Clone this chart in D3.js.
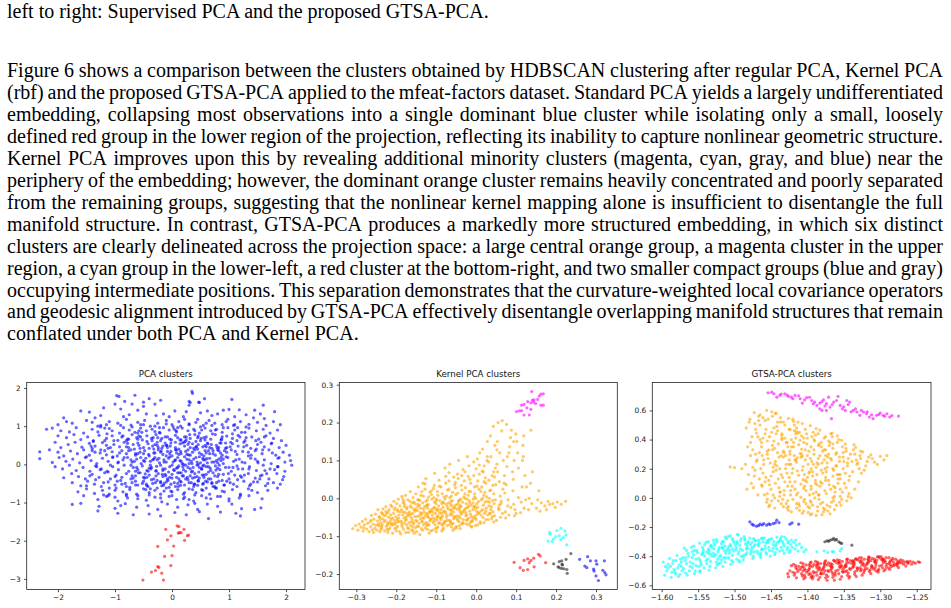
<!DOCTYPE html>
<html>
<head>
<meta charset="utf-8">
<script src="https://cdn.jsdelivr.net/npm/d3@7"></script>
<style>
  body { margin: 0; background: #fff; }
  svg { display: block; }
</style>
</head>
<body>
<svg id="page" width="951" height="608"></svg>
<script>
// ---- text of the page ----
var captionTail = 'left to right: Supervised PCA and the proposed GTSA-PCA.';
var paragraphLines = [
  'Figure 6 shows a comparison between the clusters obtained by HDBSCAN clustering after regular PCA, Kernel PCA',
  '(rbf) and the proposed GTSA-PCA applied to the mfeat-factors dataset. Standard PCA yields a largely undifferentiated',
  'embedding, collapsing most observations into a single dominant blue cluster while isolating only a small, loosely',
  'defined red group in the lower region of the projection, reflecting its inability to capture nonlinear geometric structure.',
  'Kernel PCA improves upon this by revealing additional minority clusters (magenta, cyan, gray, and blue) near the',
  'periphery of the embedding; however, the dominant orange cluster remains heavily concentrated and poorly separated',
  'from the remaining groups, suggesting that the nonlinear kernel mapping alone is insufficient to disentangle the full',
  'manifold structure. In contrast, GTSA-PCA produces a markedly more structured embedding, in which six distinct',
  'clusters are clearly delineated across the projection space: a large central orange group, a magenta cluster in the upper',
  'region, a cyan group in the lower-left, a red cluster at the bottom-right, and two smaller compact groups (blue and gray)',
  'occupying intermediate positions. This separation demonstrates that the curvature-weighted local covariance operators',
  'and geodesic alignment introduced by GTSA-PCA effectively disentangle overlapping manifold structures that remain',
  'conflated under both PCA and Kernel PCA.'
];

// ---- tick values ----
var pcaXTicks = [-2, -1, 0, 1, 2];
var pcaYTicks = [-3, -2, -1, 0, 1, 2];
var kpcaXTicks = [-0.3, -0.2, -0.1, 0.0, 0.1, 0.2, 0.3];
var kpcaYTicks = [-0.2, -0.1, 0.0, 0.1, 0.2, 0.3];
var gtsaXTicks = [-1.60, -1.55, -1.50, -1.45, -1.40, -1.35, -1.30, -1.25];
var gtsaYTicks = [-0.6, -0.4, -0.2, 0.0, 0.2, 0.4, 0.6];

// points written as "x,y" pairs, divided by the scale given
function pts(str, scale) {
  return str.trim().split(/\s+/).map(function(p) {
    var v = p.split(',');
    return [+v[0] / scale, +v[1] / scale];
  });
}

// ---- PCA (hundredths) ----
var pcaBlue = pts(`
-97,180 -93,178 -65,181 35,191 36,186 57,172 -40,172 160,155 30,165 32,162 -83,165 -50,163 -20,168 105,170
-160,140 -145,137 -120,148 -100,158 -90,145 -70,158 -60,142 -50,152 -45,132 -30,158 -15,132 5,140 20,125 30,155 47,163 48,162 50,135 70,128 90,142 100,144 110,125 145,142 155,132 180,138 130,130 -125,128 -85,125 -5,125 80,132 -190,122 -135,122 -75,130 62,140 118,143 25,138 -28,128 143,122 162,120
-185,112 -175,108 -150,115 -140,110 -125,102 -110,112 -95,108 -80,118 -72,103 -60,110 -48,115 -38,100 -25,108 -10,115 0,104 12,112 22,118 30,106 42,110 55,102 65,115 75,108 88,104 98,118 108,102 120,112 135,105 150,110 165,102 178,112 190,104 -200,104 -55,104 15,100 60,108 95,112 -115,104 45,118
-220,92 -210,95 -195,88 -180,85 -168,96 -155,82 -140,92 -130,85 -118,95 -105,88 -92,82 -85,96 -75,90 -65,84 -55,95 -45,88 -35,92 -22,84 -15,96 -5,90 8,85 18,95 28,88 38,92 48,82 58,95 68,88 78,92 88,84 98,96 110,90 122,84 135,95 148,88 160,92 172,82 185,90 -125,98 -60,82 2,98 52,90 115,96 -30,86
-200,75 -185,70 -172,78 -160,65 -148,72 -138,62 -128,76 -115,68 -105,75 -95,63 -88,72 -78,66 -70,78 -62,70 -52,64 -44,75 -36,68 -28,78 -20,62 -12,72 -4,66 6,76 14,64 22,72 32,68 40,78 50,62 60,72 68,66 76,78 86,64 96,74 106,68 116,76 128,62 140,72 152,66 165,75 178,68 192,62 -80,62 10,70 45,70 88,72 130,70 -58,74 25,64
-205,58 -195,44 -182,52 -170,58 -158,45 -145,55 -135,48 -122,57 -112,42 -102,52 -92,46 -84,58 -76,44 -68,52 -60,56 -50,44 -42,54 -34,48 -26,58 -18,42 -10,50 -2,56 6,44 14,54 22,48 30,58 38,42 46,52 54,46 62,56 70,42 78,50 86,56 96,44 106,54 116,48 126,58 138,42 150,52 162,46 175,56 188,44 200,50 -140,42 -30,52 18,56 58,50 102,46 -115,50 42,46 82,44 -8,44
-215,38 -200,32 -190,22 -178,35 -166,28 -155,38 -145,24 -135,32 -125,38 -115,25 -105,33 -96,22 -88,36 -80,28 -72,38 -64,24 -56,32 -48,36 -40,22 -32,30 -24,38 -16,26 -8,34 0,22 8,38 16,28 24,34 32,24 40,38 48,30 56,22 64,36 72,28 80,38 88,24 96,32 104,38 114,26 124,34 134,22 146,36 158,28 170,38 182,24 195,32 206,24 -60,28 -20,32 12,26 36,32 60,30 92,36 -140,36 -4,28 28,38 52,26
-232,15 -210,5 -198,18 -186,8 -174,14 -162,4 -152,18 -142,10 -132,2 -122,16 -112,8 -104,18 -95,4 -86,12 -78,18 -70,6 -62,14 -54,2 -46,16 -38,8 -30,18 -22,4 -14,12 -6,16 2,6 10,18 18,2 26,14 34,8 42,18 50,4 58,12 66,16 74,6 82,14 90,2 98,18 108,8 118,14 128,4 138,16 150,8 162,12 174,2 186,16 198,6 208,10 -50,10 -10,6 14,10 38,14 62,4 86,10 -26,12 6,12 30,2 54,16 78,10 112,12 -232,33
-205,-6 -192,-12 -180,-2 -168,-16 -156,-8 -144,-18 -134,-4 -124,-12 -114,-18 -104,-6 -94,-14 -84,-2 -76,-18 -68,-8 -60,-14 -52,-4 -44,-16 -36,-8 -28,-18 -20,-2 -12,-12 -4,-6 4,-16 12,-4 20,-14 28,-8 36,-18 44,-2 52,-12 60,-6 68,-16 76,-4 84,-14 94,-8 104,-18 114,-4 124,-12 136,-6 148,-16 160,-2 172,-12 185,-6 198,-18 210,-2 -40,-10 -16,-16 8,-10 32,-12 56,-2 80,-10 -64,-18 0,-2 24,-18 48,-8
-190,-35 -176,-24 -164,-32 -152,-38 -140,-26 -128,-34 -118,-22 -108,-38 -98,-28 -88,-34 -80,-24 -72,-38 -64,-30 -56,-22 -48,-36 -40,-28 -32,-38 -24,-24 -16,-32 -8,-38 0,-26 8,-34 16,-22 24,-38 32,-30 40,-24 48,-36 56,-28 64,-38 72,-22 80,-32 90,-26 100,-38 110,-28 122,-34 134,-24 146,-36 158,-28 170,-38 184,-24 196,-32 -44,-34 -12,-26 20,-30 44,-32 -100,-32 -28,-30 12,-38 36,-36 60,-26
-175,-48 -160,-56 -148,-44 -136,-52 -124,-58 -112,-46 -100,-54 -90,-42 -80,-58 -70,-48 -60,-54 -50,-44 -42,-58 -34,-50 -26,-42 -18,-56 -10,-46 -2,-52 6,-58 14,-44 22,-54 30,-48 38,-58 46,-42 54,-52 62,-46 72,-58 82,-44 92,-54 102,-48 114,-58 126,-44 138,-52 150,-46 164,-56 178,-48 190,-52 -20,-48 10,-50 40,-52 -64,-44 70,-50
-165,-72 -150,-64 -136,-76 -122,-68 -110,-78 -98,-62 -86,-72 -74,-66 -62,-78 -50,-64 -40,-74 -30,-68 -20,-78 -10,-62 0,-72 10,-66 20,-78 30,-64 42,-74 54,-68 66,-78 78,-62 92,-72 106,-66 120,-78 134,-64 150,-74 168,-68 185,-62 -80,-78 60,-62 -14,-70
-155,-82 -130,-92 -115,-84 -95,-96 -78,-88 -60,-82 -45,-94 -30,-86 -18,-98 -5,-84 8,-92 22,-86 38,-96 52,-82 68,-90 85,-84 100,-96 118,-88 135,-82 158,-90 -112,-82 30,-92
-175,-105 -160,-102 -128,-110 -100,-115 -82,-103 -62,-112 -42,-108 -25,-118 -8,-104 10,-112 28,-106 45,-118 62,-104 80,-110 105,-104 122,-116 145,-118 156,-114 -90,-108 40,-102
-95,-128 -68,-132 -40,-130 -20,-135 5,-126 25,-132 64,-142 85,-125 112,-128 120,-135 -130,-122 48,-124
-78,55 -66,40 -55,18 -47,-25 -35,62 -27,-5 -19,35 -11,-30 -3,48 5,10 13,-22 21,58 29,25 37,-8 45,40 53,-28 61,15 69,52 77,-15 85,30 -72,-2 -60,66 -48,8 -36,-40 -24,44 -16,-12 -8,72 0,-36 8,30 16,64 24,-2 32,44 40,-34 48,20 56,70 64,-20 72,36 80,4 88,-42 -64,28 -52,-50 -40,42 -32,14 -20,-45 -12,56 -4,20 4,-48 12,40 20,0 28,-40 36,54 44,6 52,-12 60,46 68,-38 76,24 84,56 -84,18 -70,-30 -58,50 -42,-18 -30,30 -18,68 -6,-20 6,38 18,-30 30,12 42,60 54,-4 66,28 78,-48 90,14 -76,36 -62,-8 -50,28 -38,-2 -26,50 -14,6 -2,34 10,-8 22,20 34,-20 46,-44 58,36 70,6 82,-26 94,42 -45,-52 -15,-55 15,-55 45,-55 75,-58 -25,70 25,72 -55,72 55,-50 -5,-60
-118,62 -104,20 -96,-44 -86,75 -74,-60 -66,8 -59,-22 -53,84 -46,-66 -41,26 -37,-12 -33,70 -29,-48 -23,16 -21,82 -17,-26 -9,50 -7,-42 -1,64 3,-14 7,88 11,-58 15,34 19,-6 23,60 27,-34 31,78 35,2 39,-52 43,46 47,-20 51,68 55,12 59,-44 63,54 67,-10 71,80 75,-30 79,44 83,-2 87,66 91,-54 95,20 99,-24 103,58 107,-8 111,34 115,-40 119,72 123,6 127,-28 131,50 135,-12 139,24 143,-46 147,62 151,4 155,-30 159,38 163,-16
-112,-20 -108,44 -100,-68 -92,30 -82,-50 -76,66 -68,-36 -56,42 -44,-56 -34,12 -26,-62 -16,48 -4,-34 6,58 16,-46 26,26 36,-66 46,74 56,-34 66,44 76,-62 86,18 96,-44 106,80 116,-12 126,46 136,-56 146,14 156,58 166,-24 176,30 186,-6
-150,20 -144,-30 -138,60 -132,-6 -126,30 -120,-48 -114,80 -108,-2 -150,-56 -142,48 -134,-40 -126,-14 -118,36 -110,-62 -102,62 -94,6 -88,-52 -80,46 -72,12 -64,-54 -58,88 -50,-34 -44,60 -38,-64 -32,40 -28,-16 -22,96 -14,-50 -10,22 -2,-70 4,92 10,-22 16,8 22,-74 28,52 34,-48 40,88 46,0 52,-66 58,64 64,-6 70,-48 76,90 82,36 88,-70 94,56 100,-8 108,-52 114,62 120,-30 128,84 134,32 140,-68 148,40 154,-38 162,72 168,-50 174,54 180,-14 188,18 194,-40
-130,100 -110,94 -90,102 -70,98 -50,104 -30,100 -10,106 10,96 30,104 50,98 70,102 90,96 110,104 130,98 -120,-80 -100,-86 -80,-82 -60,-90 -40,-80 -20,-88 0,-82 20,-90 40,-80 60,-88 80,-84 100,-90 120,-82
`, 100);
var pcaRed = pts(`
9,-161 12,-163 -11,-170 -2,-187 21,-170 13,-179 16,-179 27,-187 29,-185 -8,-198 22,-199 3,-214 -25,-215 -13,-241 0,-239
-2,-265 -23,-270 -29,-278 -18,-285 -36,-282 -51,-303 -15,-303 11,-180 -25,-268
`, 100);

// ---- Kernel PCA (thousandths) ----
var kpcaOrange = pts(`
-309,-80 -302,-72 -296,-84 -293,-68
-288,-76 -285,-61 -283,-86 -280,-70 -277,-55 -274,-81 -272,-66 -281,-78
-268,-88 -266,-62 -264,-75 -262,-45 -260,-83 -258,-68 -256,-55 -254,-79 -252,-42 -263,-58 -257,-90 -251,-71
-249,-84 -247,-60 -246,-30 -244,-72 -242,-48 -241,-88 -239,-65 -237,-38 -236,-78 -234,-54 -233,-28 -245,-68 -240,-56 -238,-82 -232,-44 -235,-70
-229,-86 -228,-58 -226,-22 -225,-74 -224,-40 -222,-64 -221,-90 -219,-50 -218,-30 -216,-78 -215,-60 -214,-18 -212,-70 -227,-46 -223,-82 -220,-36 -217,-66 -213,-54
-209,-92 -208,-70 -207,-40 -206,-8 -205,-58 -204,-80 -203,-25 -202,-64 -201,-48 -200,-86 -199,-14 -198,-55 -197,-74 -196,-34 -195,-2 -194,-62 -193,-44 -192,-88 -191,-20 -209,-52 -203,-68 -197,-30
-189,-94 -188,-60 -187,-30 -186,5 -185,-75 -184,-44 -183,-12 -182,-82 -181,-52 -180,-22 -179,-66 -178,-38 -177,8 -176,-90 -175,-56 -174,-28 -173,-70 -172,-46 -171,-4 -186,-64 -183,-36 -179,-16 -176,-50 -172,-78
-169,-90 -168,-64 -167,-36 -166,-8 -165,18 -164,-72 -163,-50 -162,-24 -161,-84 -160,-56 -159,-40 -158,2 -157,-68 -156,-30 -155,-92 -154,-48 -153,-14 -152,-78 -151,-58 -168,-44 -165,-20 -162,-62 -159,-76 -156,-10 -153,-34 -151,12
-149,-88 -148,-60 -147,-32 -146,-4 -145,30 -144,-74 -143,-46 -142,-18 -141,-96 -140,-54 -139,-26 -138,8 -137,-80 -136,-40 -135,-62 -134,-12 -133,40 -132,-70 -131,-36 -148,-48 -146,-22 -143,-66 -141,-6 -138,-44 -136,18 -134,-84 -132,-28 -131,-52
-129,-22 -128,38 -127,-66 -126,-8 -125,-40 -124,-64 -123,-18 -122,-82 -121,-26 -120,-50 -119,4 -118,-70 -117,-36 -116,16 -115,-54 -114,-86 -113,-56 -112,-30 -111,-2 -128,24 -126,52 -124,-72 -122,-42 -120,-16 -118,-92 -116,-60 -114,-34 -112,10 -127,-78 -121,-48
-109,-84 -108,-52 -107,-26 -106,2 -105,34 -104,66 -103,-70 -102,-40 -101,-14 -100,-88 -99,-58 -98,-32 -97,18 -96,-76 -95,-46 -94,-20 -93,48 -92,-64 -91,-6 -108,-36 -106,-60 -104,-10 -102,-80 -100,-28 -98,-48 -96,8 -94,-66 -92,-38 -107,26 -103,-54 -99,-2 -95,-30
-89,-52 -88,30 -87,-40 -86,-68 -85,12 -84,-46 -83,-24 -82,-78 -81,-12 -80,-62 -79,-34 -78,-2 -77,-60 -76,58 -75,-16 -74,-44 -73,-72 -72,22 -71,-28 -88,-56 -86,-86 -84,-10 -82,-36 -80,-66 -78,80 -76,40 -74,6 -72,-22 -87,-50 -83,-82
-69,-12 -68,68 -67,-58 -66,2 -65,-30 -64,-60 -63,-8 -62,-76 -61,-20 -60,-44 -59,16 -58,-66 -57,-36 -56,56 -55,-50 -54,-80 -53,-48 -52,-18 -51,10 -68,46 -66,90 -64,-64 -62,-32 -60,-6 -58,-84 -56,-54 -54,-24 -52,28 -67,-70 -63,-40
-49,-78 -48,-46 -47,-16 -46,14 -45,52 -44,100 -43,-62 -42,-30 -41,-4 -40,-80 -39,-52 -38,-22 -37,34 -36,-68 -35,-38 -34,-10 -33,76 -32,-56 -31,4 -48,-28 -46,-58 -44,-6 -42,-72 -40,-18 -38,-42 -36,22 -34,-64 -32,-34 -47,64 -43,-48
-29,-30 -28,70 -27,28 -26,-38 -25,-14 -24,-68 -23,-2 -22,-56 -21,-24 -20,8 -19,-52 -18,86 -17,-6 -16,-34 -15,-64 -14,40 -13,-18 -12,-48 -11,-76 -28,0 -26,-26 -24,-58 -22,110 -20,58 -18,18 -16,-12 -14,-42 -12,-74
-9,-60 -8,-30 -7,-2 -6,96 -5,-48 -4,12 -3,-20 -2,-52 -1,0 0,78 1,-34 2,32 3,104 4,-70 5,-38 6,-8 7,24 8,64 9,120 -8,-54 -6,-22 -4,4 -2,-72 0,-44 2,-14 4,46
11,-66 12,-34 13,-4 14,30 15,72 16,130 17,-50 18,-18 19,8 20,-64 21,-40 22,-10 23,54 24,-56 25,-26 26,4 27,100 28,150 29,-44 12,18 16,-30 20,86 24,40 28,-8
31,96 32,48 33,-10 34,20 35,-40 36,165 37,110 38,-22 39,-54 40,60 41,-6 42,-36 43,190 44,12 45,-14 46,-46 47,140 48,80 49,36 33,0 37,-30 44,-62
51,-58 56,-26 53,150 58,44 52,90 60,6 55,200 66,-40 59,120 63,-8 61,-50 67,24 54,70 64,178 57,-30 65,205 62,-14 68,100
74,-52 71,60 79,-20 76,195 72,14 78,110 86,160 73,-36 80,-4 77,84 82,-44 84,136 75,36 87,-24 88,180
96,-46 91,70 94,-16 99,170 92,20 104,120 97,-30 93,50 100,-40 102,150 95,100 106,2
111,-38 113,-10 115,30 116,100 117,140 119,165 120,-26 122,60 124,-4
131,-30 133,0 136,40 137,180 139,-14 141,70
151,-26 154,-4 157,20 160,-34 163,-12
172,-20 176,-30 180,-8 184,-16
192,-14 198,-24 203,-10
213,-16 224,-8
-243,-50 -238,-74 -231,-62 -226,-35 -219,-82 -214,-44 -210,-66 -205,-30 -199,-78 -194,-52 -190,-36 -186,-70 -181,-8 -177,-58 -173,-24 -169,-80 -164,-42 -160,-12 -156,-64 -152,-28 -148,-74 -144,-4 -140,-38 -136,-60 -132,6 -128,-46 -124,-20 -120,-70 -116,-36 -112,20 -108,-64 -104,-24 -100,-6 -96,-52 -92,32 -88,-30 -84,-70 -80,4 -76,-38 -72,-58 -68,24 -64,-16 -60,-68 -56,-26 -52,42 -48,-54 -44,-10 -40,-36 -36,60 -32,-66 -28,12 -24,-44 -20,-20 -16,50 -12,-60 -8,-12 -4,30 0,-56 4,-24 8,88 12,-44 16,0 20,44 24,-34 28,110 32,-20 36,22 40,-48 44,70 48,-4 52,128
-235,-40 -222,-70 -211,-22 -196,-60 -184,-2 -171,-40 -158,-86 -146,-16 -134,-52 -122,-4 -110,-44 -98,-78 -86,-14 -74,-50 -62,6 -50,-74 -38,-2 -26,-46 -14,18 -2,-26 10,-62 22,16 34,-40 46,56 58,-18 70,40 82,120 94,150 106,80 118,110 126,30 -66,-44 -54,36 -42,-24 -30,46 -18,-70 -6,60 6,-40 18,70 30,-56 42,34
`, 1000);
var kpcaMagenta = pts(`
139,282 162,275 168,276 158,270 154,261 141,259 129,255 137,252 144,254 149,250 120,248 114,246 162,246 168,246 127,239
137,235 108,231 101,229 120,220 133,220 114,231 145,260
`, 1000);
var kpcaCyan = pts(`
184,-90 185,-95 202,-85 212,-79 222,-86 225,-97 199,-101 208,-99 194,-108 212,-109 190,-114 218,-104 227,-123 180,-113
`, 1000);
var kpcaRed = pts(`
95,-169 110,-183 118,-190 129,-160 133,-170 137,-164 144,-158 129,-188 145,-181 156,-148 160,-152 174,-170 120,-164
`, 1000);
var kpcaGray = pts(`
194,-173 208,-167 214,-165 225,-161 237,-146 216,-176 208,-183 214,-185 220,-186 227,-188 228,-198 205,-181 215,-174
`, 1000);
var kpcaBlue = pts(`
259,-161 279,-154 272,-179 277,-183 286,-165 300,-165 302,-174 295,-192 300,-205 306,-217 317,-190 322,-196 325,-202 321,-165 294,-187
`, 1000);

// ---- GTSA-PCA (thousandths) ----
var gtsaOrange = pts(`
-1506,212 -1500,208 -1490,200
-1479,540 -1484,480 -1476,420 -1482,350 -1478,290 -1485,230 -1481,160 -1477,100 -1483,60 -1480,520
-1473,585 -1467,530 -1471,470 -1465,400 -1475,330 -1469,260 -1472,190 -1466,130 -1474,70 -1468,20 -1470,445 -1475,210 -1467,560 -1471,300
-1456,600 -1461,550 -1465,500 -1458,440 -1463,380 -1455,320 -1460,260 -1464,200 -1457,140 -1462,80 -1459,20 -1456,-30 -1463,350 -1460,230 -1465,570 -1458,110 -1461,410 -1455,-10
-1449,590 -1454,540 -1446,480 -1452,420 -1448,360 -1455,300 -1451,240 -1447,180 -1453,120 -1450,60 -1445,0 -1452,-50 -1448,560 -1454,270 -1446,390 -1450,150 -1455,30 -1449,450 -1453,-60 -1447,210
-1443,580 -1437,520 -1441,460 -1435,400 -1445,340 -1439,280 -1442,220 -1436,160 -1444,100 -1438,40 -1440,-20 -1445,-70 -1437,550 -1441,310 -1435,430 -1443,190 -1439,70 -1442,490 -1436,-40 -1444,250 -1438,10 -1440,370
-1426,545 -1431,500 -1435,440 -1428,380 -1433,320 -1425,260 -1430,200 -1434,140 -1427,80 -1432,20 -1429,-40 -1426,-85 -1433,520 -1430,290 -1435,410 -1428,170 -1431,110 -1425,470 -1434,-10 -1429,230 -1432,50 -1427,350 -1426,-60 -1433,280
-1419,525 -1424,470 -1416,410 -1422,350 -1418,290 -1425,230 -1421,170 -1417,110 -1423,50 -1420,-10 -1415,-70 -1422,-95 -1418,500 -1424,320 -1416,440 -1420,200 -1425,140 -1419,380 -1423,20 -1417,260 -1421,80 -1415,-40 -1424,300 -1418,460
-1413,445 -1407,285 -1411,-55 -1405,65 -1415,245 -1409,5 -1412,365 -1406,125 -1414,185 -1408,425 -1410,305 -1415,480 -1407,-105 -1411,-85 -1405,-25 -1413,35 -1409,95 -1412,155 -1406,215 -1414,275 -1408,335 -1410,395 -1415,455 -1407,510
-1396,495 -1401,440 -1405,380 -1398,320 -1403,260 -1395,200 -1400,140 -1404,80 -1397,20 -1402,-40 -1399,-100 -1396,-115 -1403,470 -1400,290 -1405,410 -1398,170 -1401,110 -1395,350 -1404,-10 -1399,230 -1402,50 -1397,-70 -1396,270 -1403,120
-1389,100 -1394,250 -1386,-90 -1392,30 -1388,210 -1395,-30 -1391,330 -1387,90 -1393,150 -1390,390 -1385,270 -1392,450 -1388,-120 -1394,-110 -1386,-60 -1390,0 -1395,60 -1389,120 -1393,180 -1387,240 -1391,300 -1385,360 -1394,420 -1388,475
-1383,465 -1377,410 -1381,350 -1375,290 -1385,230 -1379,170 -1382,110 -1376,50 -1384,-10 -1378,-70 -1380,-115 -1385,440 -1377,260 -1381,380 -1375,140 -1383,80 -1379,320 -1382,-40 -1376,200 -1384,20 -1378,-95 -1380,240
-1366,445 -1371,390 -1375,330 -1368,270 -1373,210 -1365,150 -1370,90 -1374,30 -1367,-30 -1372,-90 -1369,-110 -1366,420 -1373,240 -1370,360 -1375,120 -1368,60 -1371,300 -1365,0 -1374,180 -1369,-60
-1359,160 -1364,-20 -1356,280 -1362,40 -1358,100 -1365,340 -1361,220 -1357,400 -1363,-80 -1360,-50 -1355,10 -1362,70 -1358,130 -1364,190 -1356,250 -1360,310 -1365,370 -1359,425
-1353,395 -1347,340 -1351,280 -1345,220 -1355,160 -1349,100 -1352,40 -1346,-20 -1354,-50 -1348,370 -1350,250 -1355,130 -1347,70 -1351,310
-1336,365 -1341,300 -1345,240 -1338,180 -1343,120 -1335,60 -1340,0 -1344,270 -1337,330 -1342,150
-1334,345 -1328,290 -1332,230 -1326,170 -1330,110 -1333,260 -1327,320 -1329,200
-1324,315 -1318,250 -1322,190 -1316,280 -1320,220
-1313,295 -1308,245 -1311,270 -1304,230
-1300,285 -1295,260 -1291,290
-1478,380 -1472,510 -1466,310 -1461,170 -1457,470 -1452,90 -1448,330 -1444,580 -1440,130 -1436,290 -1431,410 -1427,-20 -1423,230 -1419,350 -1415,20 -1411,450 -1407,190 -1403,330 -1399,-60 -1395,80 -1391,400 -1387,160 -1383,290 -1379,-30 -1375,420 -1371,120 -1367,260 -1363,10 -1359,380 -1355,60 -1351,200 -1347,320 -1343,30 -1339,250 -1335,300 -1331,240 -1327,270
-1470,250 -1463,90 -1458,530 -1453,330 -1447,20 -1443,440 -1438,200 -1433,-60 -1429,380 -1424,110 -1420,540 -1416,260 -1412,-40 -1408,300 -1404,160 -1400,410 -1396,-20 -1392,230 -1388,40 -1384,370 -1380,100 -1376,-80 -1372,280 -1368,440 -1364,80 -1360,220 -1356,-30 -1352,350 -1348,170 -1344,10
-1473,150 -1468,420 -1462,290 -1455,390 -1449,-20 -1445,230 -1441,520 -1437,40 -1432,310 -1428,-70 -1422,400 -1417,60 -1413,520 -1409,280 -1405,-90 -1401,370 -1397,180 -1393,-50 -1389,430 -1385,20 -1381,190 -1377,330 -1373,-50 -1369,380 -1365,200 -1361,300 -1357,160 -1353,-10
`, 1000);
var gtsaMagenta = pts(`
-1454,721 -1449,725 -1446,714 -1442,691 -1438,703 -1431,714 -1426,696 -1422,691 -1417,703 -1410,680 -1407,650 -1401,687
-1394,668 -1390,657 -1387,634 -1383,650 -1378,673 -1374,646 -1371,691 -1369,623 -1364,657 -1358,696 -1355,634 -1352,611
-1348,600 -1346,668 -1342,657 -1337,600 -1332,589 -1328,566 -1323,589 -1319,577 -1315,554 -1310,543 -1305,566 -1300,582
-1296,566 -1291,577 -1287,554 -1275,561 -1367,543 -1383,611 -1374,600
-1436,712 -1428,705 -1420,680 -1412,700 -1404,672 -1397,690 -1392,645 -1380,660 -1376,630 -1366,640 -1360,668 -1350,625
-1344,640 -1340,590 -1334,610 -1326,600 -1318,590 -1312,570 -1302,572 -1294,560 -1284,565 -1380,600
`, 1000);
var gtsaCyan = pts(`
-1598,-440 -1595,-470 -1593,-500 -1596,-530 -1591,-455
-1589,-415 -1587,-545 -1585,-450 -1583,-490 -1581,-520 -1588,-470 -1584,-430 -1582,-505
-1579,-395 -1577,-540 -1576,-460 -1574,-420 -1572,-500 -1578,-480 -1575,-525 -1573,-440 -1571,-410
-1569,-345 -1567,-515 -1566,-450 -1564,-380 -1562,-500 -1568,-430 -1565,-530 -1563,-400 -1561,-470 -1566,-360
-1559,-340 -1558,-480 -1556,-390 -1555,-520 -1553,-420 -1552,-360 -1557,-450 -1554,-500 -1551,-375 -1558,-410 -1553,-465 -1556,-330
-1549,-415 -1548,-310 -1546,-445 -1545,-390 -1543,-355 -1542,-480 -1547,-430 -1544,-340 -1541,-400 -1548,-505 -1543,-370 -1546,-460 -1541,-320
-1539,-305 -1538,-450 -1536,-350 -1535,-495 -1533,-385 -1532,-325 -1537,-420 -1534,-470 -1531,-340 -1538,-370 -1533,-435 -1536,-300 -1531,-400 -1535,-360
-1529,-380 -1528,-350 -1526,-390 -1525,-285 -1523,-420 -1522,-355 -1527,-325 -1524,-460 -1521,-405 -1528,-310 -1523,-370 -1526,-480 -1521,-340 -1525,-440 -1529,-290
-1519,-445 -1518,-315 -1516,-345 -1515,-410 -1513,-270 -1512,-380 -1517,-340 -1514,-365 -1511,-280 -1518,-425 -1513,-330 -1516,-470 -1511,-360 -1515,-300 -1519,-395
-1509,-265 -1508,-410 -1506,-320 -1505,-455 -1503,-350 -1502,-290 -1507,-380 -1504,-430 -1501,-305 -1508,-335 -1503,-395 -1506,-260 -1501,-365 -1505,-330 -1509,-350
-1499,-320 -1498,-355 -1496,-250 -1495,-385 -1493,-325 -1492,-295 -1497,-420 -1494,-370 -1491,-280 -1498,-340 -1493,-440 -1496,-310 -1491,-400 -1495,-255
-1489,-360 -1488,-405 -1486,-290 -1485,-315 -1483,-375 -1482,-345 -1487,-265 -1484,-390 -1481,-300 -1488,-425 -1483,-330 -1486,-280
-1479,-275 -1478,-385 -1476,-305 -1475,-415 -1473,-330 -1472,-290 -1477,-355 -1474,-400 -1471,-295 -1478,-320 -1473,-370 -1476,-340
-1469,-365 -1468,-320 -1466,-310 -1465,-395 -1463,-355 -1462,-275 -1467,-330 -1464,-410 -1461,-300 -1468,-380 -1463,-280
-1459,-275 -1458,-350 -1456,-385 -1455,-300 -1453,-340 -1452,-285 -1457,-375 -1454,-305 -1451,-400 -1458,-330
-1449,-280 -1448,-365 -1446,-300 -1445,-390 -1443,-320 -1442,-270 -1447,-345 -1444,-375 -1441,-305
-1439,-300 -1438,-365 -1436,-340 -1435,-265 -1433,-315 -1432,-380 -1437,-290 -1434,-360 -1431,-270
-1429,-285 -1428,-355 -1426,-300 -1425,-375 -1423,-320 -1422,-290 -1427,-340
-1419,-305 -1417,-350 -1415,-325 -1413,-365 -1411,-315
-1408,-340 -1405,-370 -1402,-355
-1387,-370 -1377,-363 -1364,-370 -1355,-363 -1353,-347 -1372,-375 -1366,-368
-1592,-480 -1586,-510 -1580,-430 -1573,-470 -1567,-410 -1561,-440 -1555,-360 -1549,-470 -1544,-380 -1539,-430 -1533,-330 -1528,-400 -1522,-450 -1517,-300 -1512,-410 -1507,-360 -1502,-440 -1497,-300 -1492,-350 -1487,-390 -1482,-310 -1477,-370 -1472,-320 -1467,-290 -1462,-350 -1457,-310 -1452,-360 -1447,-320 -1442,-350 -1437,-280 -1432,-330 -1427,-310 -1421,-340 -1416,-290
-1570,-485 -1558,-370 -1547,-500 -1536,-380 -1524,-300 -1513,-440 -1503,-280 -1494,-430 -1484,-350 -1474,-280 -1464,-380 -1454,-290 -1444,-330 -1434,-300 -1424,-360
`, 1000);
var gtsaRed = pts(`
-1426,-541 -1424,-500 -1422,-465 -1427,-520
-1419,-455 -1418,-530 -1416,-480 -1415,-548 -1413,-505 -1412,-470 -1417,-515 -1414,-490
-1409,-445 -1408,-520 -1406,-470 -1405,-555 -1403,-495 -1402,-460 -1407,-535 -1404,-485 -1401,-510 -1408,-475 -1403,-545 -1406,-450
-1399,-500 -1398,-525 -1396,-445 -1395,-545 -1393,-470 -1392,-505 -1397,-480 -1394,-535 -1391,-455 -1398,-490 -1393,-555 -1396,-465 -1391,-515 -1395,-440
-1389,-435 -1388,-510 -1386,-460 -1385,-560 -1383,-485 -1382,-450 -1387,-530 -1384,-475 -1381,-500 -1388,-465 -1383,-545 -1386,-440 -1381,-520 -1385,-495
-1379,-490 -1378,-518 -1376,-438 -1375,-548 -1373,-460 -1372,-498 -1377,-470 -1374,-528 -1371,-445 -1378,-480 -1373,-565 -1376,-455 -1371,-505 -1375,-432
-1369,-465 -1368,-495 -1366,-455 -1365,-545 -1363,-432 -1362,-515 -1367,-485 -1364,-428 -1361,-500 -1368,-450 -1363,-565 -1366,-475 -1361,-440 -1365,-525
-1359,-425 -1358,-495 -1356,-445 -1355,-558 -1353,-470 -1352,-435 -1357,-520 -1354,-460 -1351,-490 -1358,-450 -1353,-540 -1356,-428 -1351,-510 -1355,-480
-1349,-475 -1348,-505 -1346,-422 -1345,-532 -1343,-445 -1342,-485 -1347,-455 -1344,-515 -1341,-430 -1348,-465 -1343,-550 -1346,-440 -1341,-490 -1345,-420
-1339,-450 -1338,-478 -1336,-440 -1335,-525 -1333,-420 -1332,-498 -1337,-470 -1334,-418 -1331,-485 -1338,-435 -1333,-540 -1336,-460 -1331,-425 -1335,-508
-1329,-412 -1328,-480 -1326,-430 -1325,-530 -1323,-455 -1322,-420 -1327,-500 -1324,-445 -1321,-472 -1328,-435 -1323,-515 -1326,-410 -1321,-490 -1325,-462
-1319,-458 -1318,-485 -1316,-405 -1315,-505 -1313,-430 -1312,-465 -1317,-440 -1314,-495 -1311,-415 -1318,-450 -1313,-520 -1316,-425 -1311,-472 -1315,-408
-1309,-488 -1308,-435 -1306,-460 -1305,-428 -1303,-498 -1302,-402 -1307,-478 -1304,-405 -1301,-468 -1308,-420 -1303,-510 -1306,-445 -1301,-412
-1299,-402 -1298,-462 -1296,-418 -1295,-500 -1293,-440 -1292,-410 -1297,-480 -1294,-430 -1291,-455 -1298,-425 -1293,-490 -1296,-445
-1289,-480 -1288,-450 -1286,-432 -1285,-472 -1283,-415 -1282,-440 -1287,-490 -1284,-425 -1281,-458 -1288,-410
-1279,-420 -1278,-455 -1276,-432 -1275,-478 -1273,-445 -1272,-425 -1277,-465 -1274,-438
-1269,-430 -1268,-455 -1266,-440 -1265,-468 -1263,-435 -1262,-450
-1259,-435 -1257,-455 -1255,-440 -1252,-448 -1248,-438 -1246,-442
-1420,-510 -1410,-490 -1404,-530 -1398,-460 -1392,-540 -1387,-480 -1382,-520 -1377,-450 -1372,-540 -1367,-470 -1362,-530 -1357,-440 -1352,-505 -1347,-470 -1342,-540 -1337,-430 -1332,-480 -1327,-445 -1322,-500 -1317,-420 -1312,-480 -1307,-440 -1302,-490 -1297,-420 -1292,-470 -1287,-440 -1282,-465 -1277,-445 -1270,-445 -1262,-442
-1416,-465 -1406,-500 -1396,-520 -1386,-450 -1376,-500 -1366,-510 -1356,-470 -1346,-500 -1336,-450 -1326,-490 -1316,-440 -1306,-500 -1296,-430 -1286,-460 -1276,-452
`, 1000);
var gtsaBlue = pts(`
-1479,-164 -1476,-180 -1474,-187 -1470,-194 -1465,-180 -1462,-186 -1460,-176 -1456,-187 -1451,-183 -1447,-176 -1444,-171
-1442,-153 -1439,-169 -1424,-180 -1421,-171 -1412,-180 -1467,-190 -1453,-178
`, 1000);
var gtsaGray = pts(`
-1376,-301 -1373,-294 -1369,-290 -1364,-278 -1362,-290 -1360,-285 -1357,-301 -1355,-308 -1353,-312 -1339,-324 -1371,-298 -1366,-286
`, 1000);

// ---- layout ----
var svg = d3.select('#page');
var textLeft = 7, textRight = 943;
var textSize = 20;
var firstBaseline = 77, lineHeight = 21.95;
var serif = '"Liberation Serif", "Times New Roman", serif';
var sans = '"DejaVu Sans", sans-serif';

var panels = [
  {title: 'PCA clusters', left: 26.7, right: 305, xDomain: [-2.549, 2.333], yDomain: [-3.28, 2.147],
   xTicks: pcaXTicks, yTicks: pcaYTicks, xFmt: d3.format('d'), yFmt: d3.format('d'),
   groups: [[pcaBlue, 'blue'], [pcaRed, 'red']]},
  {title: 'Kernel PCA clusters', left: 339.3, right: 617.3, xDomain: [-0.3426, 0.3533], yDomain: [-0.241, 0.306],
   xTicks: kpcaXTicks, yTicks: kpcaYTicks, xFmt: d3.format('.1f'), yFmt: d3.format('.1f'),
   groups: [[kpcaOrange, 'orange'], [kpcaMagenta, 'magenta'], [kpcaCyan, 'cyan'], [kpcaRed, 'red'], [kpcaGray, '#222'], [kpcaBlue, 'blue']]},
  {title: 'GTSA-PCA clusters', left: 652.3, right: 931, xDomain: [-1.6129, -1.2304], yDomain: [-0.629, 0.792],
   xTicks: gtsaXTicks, yTicks: gtsaYTicks, xFmt: d3.format('.2f'), yFmt: d3.format('.1f'),
   groups: [[gtsaOrange, 'orange'], [gtsaMagenta, 'magenta'], [gtsaCyan, 'cyan'], [gtsaRed, 'red'], [gtsaBlue, 'blue'], [gtsaGray, '#222']]}
];
var plotTop = 382.4, plotBottom = 589.6;

// ---- text ----
svg.append('text')
  .attr('x', textLeft).attr('y', 18)
  .attr('font-family', serif).attr('font-size', textSize).attr('fill', '#000')
  .text(captionTail);

var measure = svg.append('text')
  .attr('font-family', serif).attr('font-size', textSize)
  .attr('visibility', 'hidden');
function wordWidth(w) {
  measure.text(w);
  return measure.node().getComputedTextLength();
}
var spaceWidth = wordWidth('a b') - wordWidth('ab');

// justified paragraph: spread the leftover width over the word gaps
paragraphLines.forEach(function(line, i) {
  var words = line.split(' ');
  var widths = words.map(wordWidth);
  var last = i === paragraphLines.length - 1;
  var gap = last ? spaceWidth : (textRight - textLeft - d3.sum(widths)) / (words.length - 1);
  var t = svg.append('text')
    .attr('y', firstBaseline + i * lineHeight)
    .attr('font-family', serif).attr('font-size', textSize).attr('fill', '#000');
  var x = textLeft;
  words.forEach(function(w, j) {
    t.append('tspan').attr('x', x).text(w);
    x += widths[j] + gap;
  });
});
measure.remove();

// ---- scatter panels ----
panels.forEach(function(p) {
  var x = d3.scaleLinear().domain(p.xDomain).range([p.left, p.right]);
  var y = d3.scaleLinear().domain(p.yDomain).range([plotBottom, plotTop]);
  var g = svg.append('g');

  p.groups.forEach(function(grp) {
    g.append('g').selectAll('circle')
      .data(grp[0])
      .enter().append('circle')
      .attr('cx', function(d) { return x(d[0]); })
      .attr('cy', function(d) { return y(d[1]); })
      .attr('r', 1.6)
      .attr('fill', grp[1])
      .attr('fill-opacity', 0.6);
  });

  var xAxis = g.append('g')
    .attr('transform', 'translate(0,' + plotBottom + ')')
    .call(d3.axisBottom(x).tickValues(p.xTicks).tickFormat(p.xFmt).tickSize(2.6).tickSizeOuter(0).tickPadding(3));
  var yAxis = g.append('g')
    .attr('transform', 'translate(' + p.left + ',0)')
    .call(d3.axisLeft(y).tickValues(p.yTicks).tickFormat(p.yFmt).tickSize(2.6).tickSizeOuter(0).tickPadding(3.5));
  [xAxis, yAxis].forEach(function(a) {
    a.select('.domain').remove();
    a.selectAll('line').attr('stroke', '#222').attr('stroke-width', 0.8);
    a.selectAll('text').attr('font-family', sans).attr('font-size', 7.4).attr('fill', '#222');
  });

  g.append('rect')
    .attr('x', p.left).attr('y', plotTop)
    .attr('width', p.right - p.left).attr('height', plotBottom - plotTop)
    .attr('fill', 'none').attr('stroke', '#222').attr('stroke-width', 0.8);

  g.append('text')
    .attr('x', (p.left + p.right) / 2).attr('y', 377)
    .attr('text-anchor', 'middle')
    .attr('font-family', sans).attr('font-size', 8.7).attr('fill', '#111')
    .text(p.title);
});
</script>
</body>
</html>
